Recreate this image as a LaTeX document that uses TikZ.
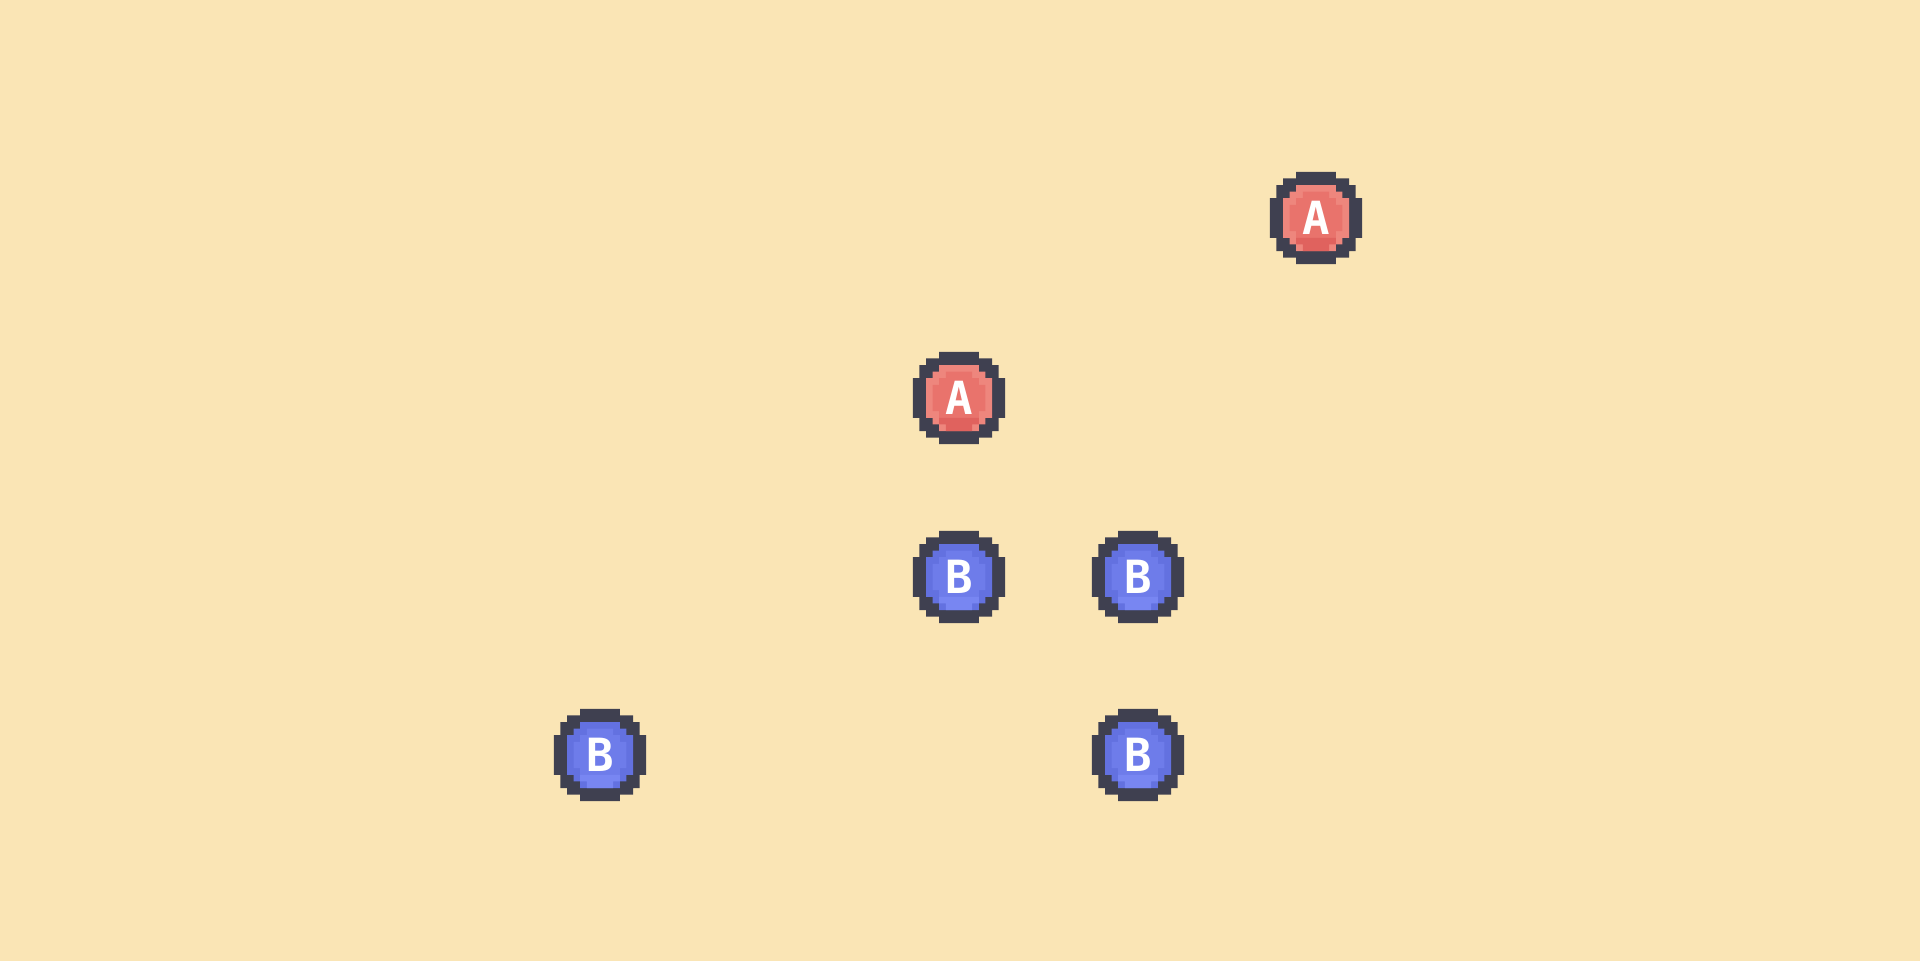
\documentclass[tikz,border=0pt]{standalone}
\usepackage{fontspec}
\newfontfamily\pixfont{DejaVu Sans Mono}
\definecolor{sand}{HTML}{FAE5B5}
\definecolor{slate}{HTML}{3F4050}
\definecolor{redring}{HTML}{EE867D}
\definecolor{redcore}{HTML}{E9736C}
\definecolor{redband}{HTML}{E0625E}
\definecolor{bluering}{HTML}{6371E0}
\definecolor{bluecore}{HTML}{6E7CEA}
\definecolor{blueband}{HTML}{7886F2}

\tikzset{
	coinletter/.style={text=white, inner sep=0pt, font=\pixfont\bfseries\fontsize{13}{13}\selectfont},
	pics/coin/.style n args={4}{code={
		\begin{scope}[x=0.066cm, y=-0.066cm, shift={(-7,-7)}]
			\fill[slate] \foreach \row/\lo/\hi in {0/4/9,1/2/11,2/1/12,3/1/12,4/0/13,5/0/13,6/0/13,7/0/13,8/0/13,9/0/13,10/1/12,11/1/12,12/2/11,13/4/9}
				{(\lo,\row) rectangle (\hi+1,\row+1)};
			\fill[#1] \foreach \row/\lo/\hi in {2/4/9,3/3/10,4/2/11,5/2/11,6/2/11,7/2/11,8/2/11,9/2/11,10/3/10,11/4/9}
				{(\lo,\row) rectangle (\hi+1,\row+1)};
			\fill[#2] \foreach \row/\lo/\hi in {3/5/8,4/4/9,5/3/10,6/3/10,7/3/10,8/3/10,9/4/9}
				{(\lo,\row) rectangle (\hi+1,\row+1)};
			\fill[#3] \foreach \row/\lo/\hi in {10/4/9,11/5/8}
				{(\lo,\row) rectangle (\hi+1,\row+1)};
		\end{scope}
		\node[coinletter] (-l) {#4};
	}}
}

\begin{document}
\begin{tikzpicture}
	\useasboundingbox (0,0) rectangle (19.2,9.6);
	\fill[sand] (-0.1,-0.1) rectangle (19.3,9.7);

	\pic (a1) at (13.16,7.42) {coin={redring}{redcore}{redband}{A}};
	\pic (a2) at (9.59,5.62) {coin={redring}{redcore}{redband}{A}};
	\pic (b1) at (9.59,3.83) {coin={bluering}{bluecore}{blueband}{B}};
	\pic (b2) at (11.38,3.83) {coin={bluering}{bluecore}{blueband}{B}};
	\pic (b3) at (6.00,2.05) {coin={bluering}{bluecore}{blueband}{B}};
	\pic (b4) at (11.38,2.05) {coin={bluering}{bluecore}{blueband}{B}};
\end{tikzpicture}
\end{document}
